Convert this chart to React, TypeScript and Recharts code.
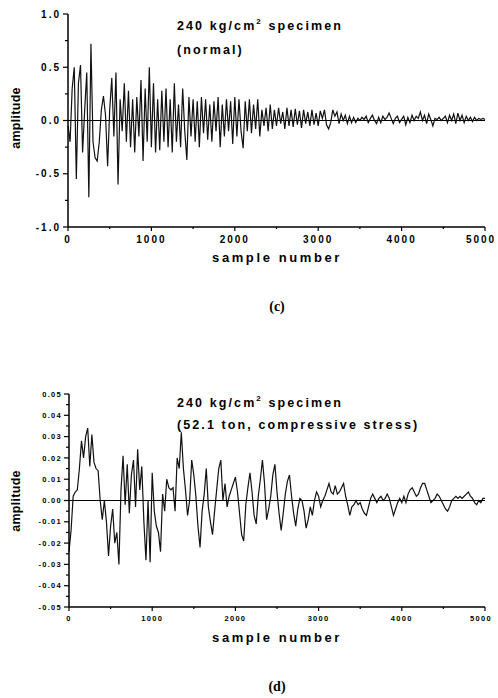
import React from "react";
import { LineChart, Line, XAxis, YAxis, ReferenceLine } from "recharts";

const sampleStep = 25;

// (c) normal specimen, read every 25 samples
const normalAmp = [
  -0.05, -0.2, 0.3, 0.5, -0.55, 0.35, 0.52, -0.3, 0.1, 0.45, -0.72, 0.72, -0.2, -0.35, -0.38, -0.2, 0.1, 0.23, 0.05, -0.43,
  0.1, 0.4, -0.15, 0.45, -0.6, 0.2, -0.1, 0.35, -0.2, 0.28, -0.25, 0.2, -0.3, 0.22, -0.15, 0.38, -0.38, 0.3, -0.2, 0.5,
  -0.25, 0.35, -0.3, 0.2, -0.28, 0.28, -0.2, 0.3, -0.25, 0.2, -0.3, 0.35, -0.2, 0.15, -0.25, 0.3, -0.1, -0.37, 0.22, -0.15,
  0.2, -0.2, 0.18, -0.25, 0.22, -0.12, 0.2, -0.18, 0.15, -0.2, 0.18, -0.1, 0.22, -0.25, 0.15, -0.15, 0.2, -0.1, 0.18, -0.22,
  0.22, -0.15, 0.2, -0.1, -0.26, 0.18, -0.1, 0.2, -0.12, 0.15, -0.08, 0.2, -0.15, 0.1, -0.05, 0.12, -0.1, 0.15, -0.08, 0.1,
  -0.05, 0.12, -0.03, 0.08, -0.08, 0.12, -0.05, 0.1, -0.06, 0.11, -0.04, 0.09, -0.07, 0.1, -0.03, 0.08, -0.05, 0.1, -0.04, 0.07,
  -0.05, 0.09, 0.02, 0.1, -0.04, -0.08, -0.02, 0.1, 0.04, 0.08, -0.03, 0.06, 0.0, 0.05, -0.03, 0.04, -0.02, 0.03, -0.02, 0.02,
  0.0, 0.03, 0.01, 0.04, -0.02, 0.02, 0.05, 0.0, -0.03, 0.03, -0.02, 0.04, 0.01, 0.03, 0.07, 0.02, -0.03, 0.02, 0.04, -0.02,
  0.01, 0.04, -0.04, 0.03, -0.02, 0.05, 0.0, 0.04, 0.02, 0.08, 0.0, 0.05, -0.03, 0.06, 0.01, -0.05, 0.02, 0.01, 0.03, 0.0,
  0.02, 0.04, -0.02, 0.05, 0.0, 0.06, -0.03, 0.07, 0.0, 0.05, -0.02, 0.04, 0.0, 0.03, -0.01, 0.03, 0.0, 0.02, 0.01, 0.02,
  0.01,
];

// (d) 52.1 ton compressive stress, read every 25 samples
const stressAmp = [
  -0.024, -0.014, 0.002, 0.004, 0.005, 0.015, 0.028, 0.02, 0.03, 0.034, 0.016, 0.031, 0.018, 0.015, 0.014, 0.0, -0.009, 0.0, -0.01, -0.026,
  -0.012, -0.004, -0.02, -0.015, -0.03, 0.005, 0.021, -0.002, 0.017, -0.006, 0.012, 0.019, -0.003, 0.024, 0.005, 0.016, -0.01, -0.028, 0.0, -0.029,
  0.013, -0.005, -0.012, -0.015, -0.024, 0.003, -0.005, 0.01, 0.006, 0.005, 0.006, -0.005, 0.02, 0.015, 0.032, 0.015, 0.005, -0.007, 0.0, 0.019,
  0.012, 0.002, -0.012, -0.022, -0.005, 0.003, 0.015, -0.003, -0.01, -0.016, -0.005, 0.005, 0.015, 0.019, 0.0, 0.008, -0.003, 0.002, 0.005, 0.008,
  0.011, 0.004, -0.006, -0.016, -0.019, -0.002, 0.006, 0.013, 0.004, -0.007, -0.011, 0.002, 0.01, 0.019, 0.008, -0.009, -0.004, 0.002, 0.012, 0.017,
  0.004, -0.006, -0.014, -0.006, 0.003, 0.009, 0.012, 0.002, -0.006, -0.012, -0.004, 0.001, 0.0, -0.005, -0.013, -0.009, -0.003, -0.007, 0.0, 0.004,
  0.002, -0.003, 0.0, 0.002, 0.005, 0.008, 0.004, 0.003, 0.007, 0.003, 0.004, 0.006, 0.008, 0.002, -0.002, -0.007, -0.003, -0.002, 0.0, -0.002,
  -0.001, -0.004, -0.006, -0.007, -0.003, 0.001, 0.003, 0.001, -0.001, 0.001, 0.002, 0.0, 0.001, 0.003, 0.001, -0.003, -0.007, -0.004, -0.001, 0.001,
  -0.001, 0.002, -0.001, 0.003, 0.005, 0.006, 0.004, 0.002, 0.003, 0.006, 0.008, 0.008, 0.005, 0.002, -0.001, 0.0, 0.001, 0.003, 0.002, 0.0,
  -0.002, -0.004, -0.005, -0.003, 0.0, 0.001, 0.002, 0.001, 0.002, 0.001, 0.002, 0.003, 0.004, 0.002, 0.001, -0.001, -0.002, 0.0, -0.001, 0.001,
  0.001,
];

const sampleTicks = [0, 500, 1000, 1500, 2000, 2500, 3000, 3500, 4000, 4500, 5000];
const normalTicks = [-1, -0.75, -0.5, -0.25, 0, 0.25, 0.5, 0.75, 1];
const stressTicks = [
  -0.05, -0.045, -0.04, -0.035, -0.03, -0.025, -0.02, -0.015, -0.01, -0.005, 0,
  0.005, 0.01, 0.015, 0.02, 0.025, 0.03, 0.035, 0.04, 0.045, 0.05,
];

const FONT = "'Liberation Sans', Arial, sans-serif";

function XTick(props: any) {
  const { x, y, payload, fontSize, spacing, drop } = props;
  const major = payload.value % 1000 === 0;
  // keep the last label inside the page edge
  const shift = payload.value === 5000 ? -4 : 0;
  return (
    <g>
      <line x1={x} y1={y} x2={x} y2={y + (major ? 4 : 2)} stroke="#000" strokeWidth={1.2} />
      {major && (
        <text x={x + shift} y={y + fontSize + drop} textAnchor="middle" fontSize={fontSize} fontWeight="bold"
          fontFamily={FONT} letterSpacing={spacing} fill="#000">
          {payload.value}
        </text>
      )}
    </g>
  );
}

function YTick(props: any) {
  const { x, y, payload, unit, digits, fontSize, spacing } = props;
  const v = payload.value;
  const major = Math.abs(v / unit - Math.round(v / unit)) < 1e-6;
  return (
    <g>
      <line x1={x} y1={y} x2={x - (major ? 5 : 3)} y2={y} stroke="#000" strokeWidth={1.2} />
      {major && (
        <text x={x - 7} y={y + fontSize * 0.35} textAnchor="end" fontSize={fontSize} fontWeight="bold"
          fontFamily={FONT} letterSpacing={spacing} fill="#000">
          {v.toFixed(digits)}
        </text>
      )}
    </g>
  );
}

function Panel(props: any) {
  const { values, domain, ticks, unit, digits, tickFont, tickSpacing, left, drop } = props;
  const rows = values.map((v: number, i: number) => ({ sample: i * sampleStep, amp: v }));
  return (
    <LineChart width={498} height={260} data={rows} margin={{ top: 14, right: 13, bottom: 3, left }}>
      <XAxis
        dataKey="sample"
        type="number"
        domain={[0, 5000]}
        ticks={sampleTicks}
        height={30}
        tickSize={0}
        tickMargin={0}
        tickLine={false}
        axisLine={{ stroke: "#000", strokeWidth: 1.5 }}
        tick={(p: any) => <XTick {...p} fontSize={tickFont} spacing={tickSpacing} drop={drop} />}
        interval={0}
      />
      <YAxis
        type="number"
        domain={domain}
        ticks={ticks}
        width={50}
        tickSize={0}
        tickMargin={0}
        tickLine={false}
        axisLine={{ stroke: "#000", strokeWidth: 1.5 }}
        tick={(p: any) => <YTick {...p} unit={unit} digits={digits} fontSize={tickFont} spacing={tickSpacing} />}
        interval={0}
        allowDataOverflow
      />
      <ReferenceLine y={0} stroke="#000" strokeWidth={1.2} />
      <Line type="linear" dataKey="amp" stroke="#111" strokeWidth={1.2} dot={false} isAnimationActive={false} />
    </LineChart>
  );
}

const textBase: React.CSSProperties = {
  position: "absolute",
  fontFamily: FONT,
  fontWeight: "bold",
  color: "#000",
  whiteSpace: "nowrap",
  lineHeight: 1,
};

function Title({ top, children }: any) {
  return <div style={{ ...textBase, left: 177, top, fontSize: 12.5, letterSpacing: 2.1 }}>{children}</div>;
}

function AxisTitles({ xTop, yCenter }: any) {
  return (
    <>
      <div style={{ ...textBase, left: 277, top: xTop, fontSize: 13, letterSpacing: 2.6, transform: "translate(-50%, -50%)" }}>
        sample number
      </div>
      <div style={{ ...textBase, left: 16, top: yCenter, fontSize: 12.5, letterSpacing: 0.3, transform: "translate(-50%, -50%) rotate(-90deg)" }}>
        amplitude
      </div>
    </>
  );
}

export default function App() {
  return (
    <div style={{ position: "absolute", left: 0, top: 0, width: 498, height: 698, background: "#fff" }}>
      <div style={{ position: "absolute", left: 0, top: 0 }}>
        <Panel values={normalAmp} domain={[-1, 1]} ticks={normalTicks} unit={0.5} digits={1}
          tickFont={10} tickSpacing={2} left={18} drop={6} />
      </div>
      <Title top={18}>
        240 kg/cm<sup style={{ fontSize: 8, verticalAlign: "6px" }}>2</sup> specimen
      </Title>
      <Title top={44}>(normal)</Title>
      <AxisTitles xTop={257} yCenter={118} />
      <div style={{ position: "absolute", left: 277, top: 307, transform: "translate(-50%, -50%)", fontFamily: "'Liberation Serif', serif", fontWeight: "bold", fontSize: 14 }}>
        (c)
      </div>

      <div style={{ position: "absolute", left: 0, top: 380 }}>
        <Panel values={stressAmp} domain={[-0.05, 0.05]} ticks={stressTicks} unit={0.01} digits={2}
          tickFont={7.5} tickSpacing={1.3} left={19} drop={6} />
      </div>
      <Title top={395}>
        240 kg/cm<sup style={{ fontSize: 8, verticalAlign: "6px" }}>2</sup> specimen
      </Title>
      <Title top={419}>(52.1 ton, compressive stress)</Title>
      <AxisTitles xTop={637} yCenter={501} />
      <div style={{ position: "absolute", left: 277, top: 687, transform: "translate(-50%, -50%)", fontFamily: "'Liberation Serif', serif", fontWeight: "bold", fontSize: 14 }}>
        (d)
      </div>
    </div>
  );
}
